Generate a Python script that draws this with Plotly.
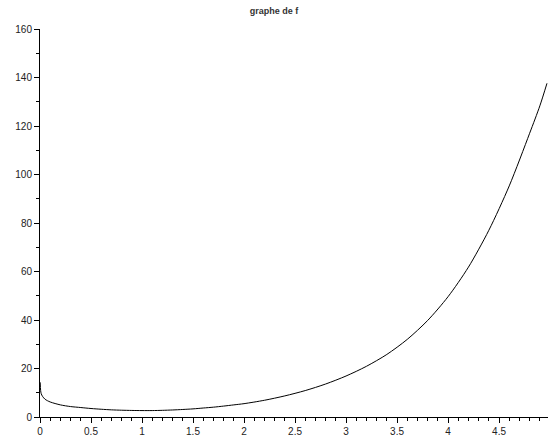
import plotly.graph_objects as go

# Values
x_vals = [0.002, 0.006, 0.012, 0.025, 0.05, 0.1, 0.2, 0.3, 0.4, 0.5, 0.6, 0.7, 0.8, 0.9,
          1.0, 1.1, 1.2, 1.3, 1.4, 1.5, 1.6, 1.7, 1.8, 1.9, 2.0, 2.2, 2.4, 2.6, 2.8,
          3.0, 3.2, 3.4, 3.6, 3.8, 4.0, 4.2, 4.4, 4.6, 4.8, 4.9, 4.97]
y_vals = [14.3, 11.0, 9.6, 8.5, 7.3, 6.2, 5.0, 4.3, 3.9, 3.5, 3.2, 2.95, 2.8, 2.7,
          2.65, 2.65, 2.75, 2.9, 3.1, 3.35, 3.7, 4.05, 4.5, 5.0, 5.5, 6.9, 8.7, 10.9, 13.6,
          16.9, 20.9, 25.8, 32.0, 39.8, 49.6, 61.8, 77.0, 95.3, 117.0, 128.3, 137.6]

title_text = "graphe de f"
x_ticks = [0, 0.5, 1, 1.5, 2, 2.5, 3, 3.5, 4, 4.5]
x_tick_labels = ["0", "0.5", "1", "1.5", "2", "2.5", "3", "3.5", "4", "4.5"]
y_ticks = [0, 20, 40, 60, 80, 100, 120, 140, 160]

fig = go.Figure()
fig.add_trace(go.Scatter(x=x_vals, y=y_vals, mode="lines",
                         line=dict(color="black", width=1, shape="spline", smoothing=0.8),
                         showlegend=False, hoverinfo="skip"))

font = dict(family="Liberation Sans, Arial, sans-serif", size=10, color="#222222")

fig.update_layout(
    width=548, height=441,
    margin=dict(l=40, r=0, t=29, b=24, autoexpand=False),
    paper_bgcolor="white", plot_bgcolor="white",
    font=font,
    title=dict(text="<b>" + title_text + "</b>", x=0.5, xanchor="center", y=0.975, yanchor="middle",
               font=dict(family="Liberation Sans, Arial, sans-serif", size=9, color="#333333")),
    xaxis=dict(range=[0, 4.98], showgrid=False, zeroline=False, showline=True, linecolor="black",
               linewidth=1, ticks="outside", ticklen=5, tickcolor="black", automargin=False,
               tickvals=x_ticks, ticktext=x_tick_labels,
               minor=dict(dtick=0.1, tick0=0, ticks="outside", ticklen=3, tickcolor="black", showgrid=False)),
    yaxis=dict(range=[0, 160], showgrid=False, zeroline=False, showline=True, linecolor="black",
               linewidth=1, ticks="outside", ticklen=5, tickcolor="black", automargin=False,
               tickvals=y_ticks,
               minor=dict(dtick=10, tick0=0, ticks="outside", ticklen=3, tickcolor="black", showgrid=False)),
)

div = fig.to_html(include_plotlyjs=True, full_html=False, config={"displayModeBar": False})
html = ("<!DOCTYPE html><html><head><meta charset='utf-8'>"
        "<style>html,body{margin:0;padding:0;overflow:hidden;background:white;}</style>"
        "</head><body>" + div + "</body></html>")
with open("out.html", "w", encoding="utf-8") as fh:
    fh.write(html)
